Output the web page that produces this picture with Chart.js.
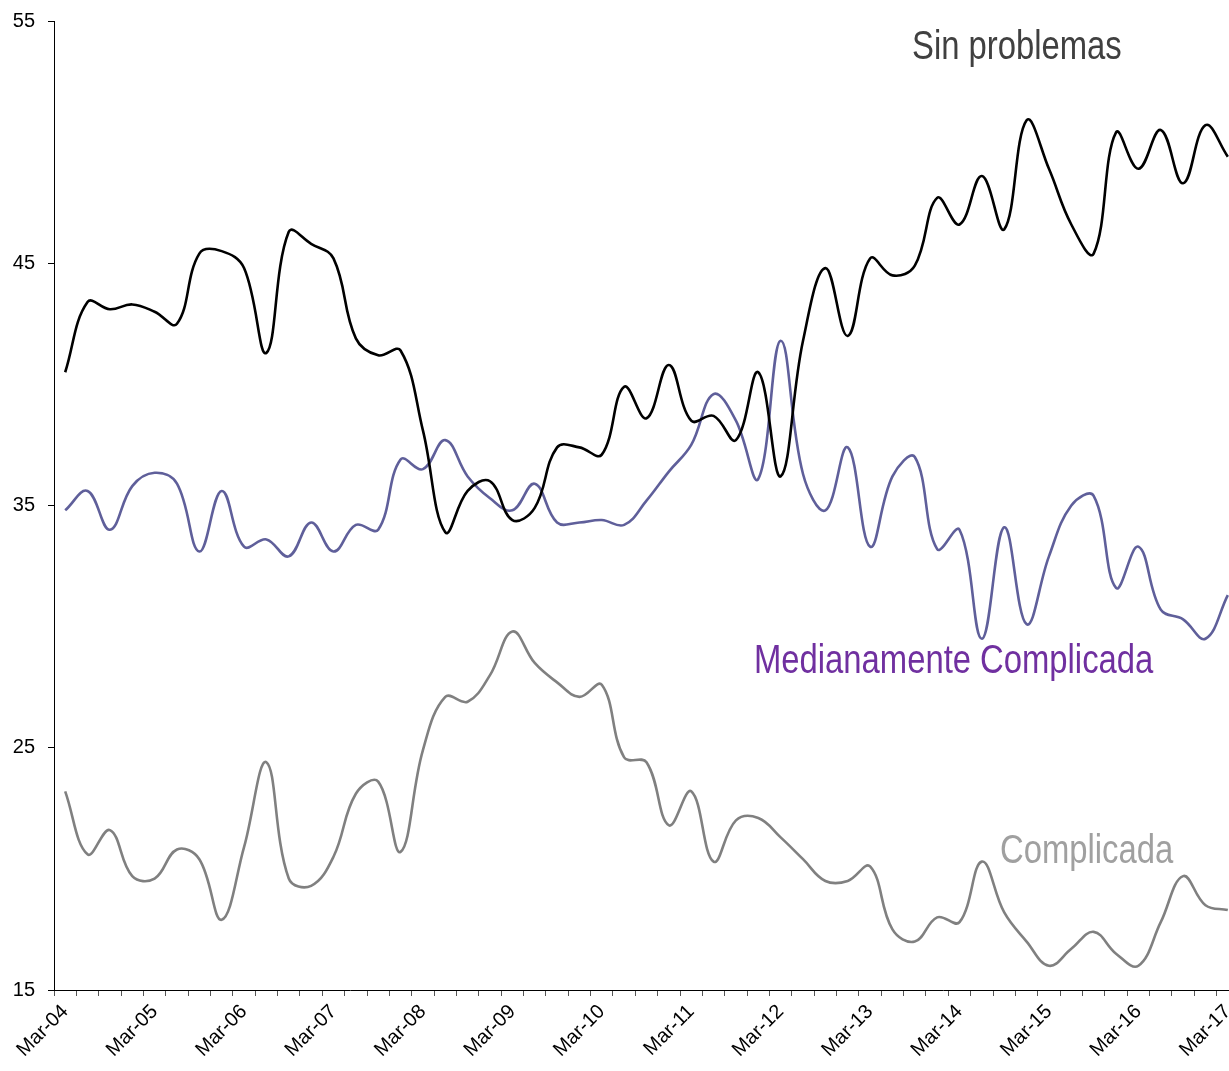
<!DOCTYPE html>
<html lang="es">
<head>
  <meta charset="UTF-8">
  <title>Sin problemas / Medianamente Complicada / Complicada</title>
  <script src="https://cdn.jsdelivr.net/npm/chart.js"></script>
  <style>
    html, body {
      margin: 0;
      padding: 0;
      overflow: hidden;
      background: #fff;
    }
    #canvas {
      display: block;
    }
  </style>
</head>
<body>
  <canvas id="canvas" width="1239" height="1071"></canvas>

  <script>
    // quarterly, Mar-04 .. Mar-17
    const months = ["Mar", "Jun", "Sep", "Dec"];
    const years = ["04", "05", "06", "07", "08", "09", "10", "11", "12", "13", "14", "15", "16", "17"];
    const categories = [];
    years.forEach(function (y, n) {
      months.forEach(function (m) {
        if (n < years.length - 1 || m === "Mar") categories.push(m + "-" + y);
      });
    });

    const sinProblemas = [
      40.5, 43.4, 43.1, 43.3, 43.0, 42.5, 45.4, 45.5, 44.8, 41.3,
      46.3, 45.8, 45.2, 41.9, 41.2, 41.4, 38.1, 33.9, 35.6, 36.0,
      34.4, 34.9, 37.4, 37.4, 37.1, 39.9, 38.6, 40.8, 38.5, 38.7,
      37.7, 40.5, 36.2, 41.8, 44.8, 42.0, 45.2, 44.5, 44.9, 47.7,
      46.6, 48.6, 46.4, 50.9, 48.9, 46.6, 45.4, 50.4, 48.9, 50.5,
      48.3, 50.7, 49.4
    ];
    const medianamente = [
      34.8, 35.6, 34.0, 35.8, 36.35, 35.9, 33.1, 35.6, 33.3, 33.6,
      32.9, 34.3, 33.1, 34.2, 34.0, 36.9, 36.5, 37.7, 36.2, 35.3,
      34.8, 35.9, 34.3, 34.3, 34.4, 34.2, 35.2, 36.4, 37.5, 39.6,
      38.5, 36.1, 41.8, 36.3, 34.8, 37.4, 33.3, 36.2, 37.0, 33.2,
      34.0, 29.5, 34.1, 30.1, 32.9, 35.0, 35.4, 31.6, 33.3, 30.7,
      30.3, 29.5, 31.3
    ];
    const complicada = [
      23.2, 20.6, 21.6, 19.7, 19.6, 20.8, 20.4, 17.9, 20.9, 24.4,
      19.6, 19.3, 20.5, 23.1, 23.6, 20.7, 24.9, 27.1, 26.9, 28.0,
      29.8, 28.5, 27.7, 27.1, 27.6, 24.6, 24.4, 21.8, 23.2, 20.3,
      22.0, 22.1, 21.3, 20.4, 19.5, 19.5, 20.1, 17.5, 17.0, 18.0,
      17.8, 20.3, 18.2, 17.0, 16.0, 16.7, 17.4, 16.5, 16.0, 17.8,
      19.7, 18.5, 18.3
    ];
    const yTicks = [15, 25, 35, 45, 55];

    const seriesLabels = [
      { text: "Sin problemas", color: "#404040", x: 912, y: 59 },
      { text: "Medianamente Complicada", color: "#7030A0", x: 754, y: 673 },
      { text: "Complicada", color: "#A0A0A0", x: 1000, y: 863 }
    ];

    const labelPlugin = {
      id: "seriesLabels",
      afterDraw: function (chart) {
        const ctx = chart.ctx;
        ctx.save();
        ctx.font = '40px "Liberation Sans", Arial, sans-serif';
        ctx.textBaseline = "alphabetic";
        ctx.textAlign = "left";
        seriesLabels.forEach(function (l) {
          ctx.save();
          ctx.translate(l.x, l.y);
          ctx.scale(0.82, 1);   // narrow face
          ctx.fillStyle = l.color;
          ctx.fillText(l.text, 0, 0);
          ctx.restore();
        });
        ctx.restore();
      }
    };

    const lineDefaults = {
      fill: false,
      borderWidth: 2.6,
      pointRadius: 0,
      pointHoverRadius: 0,
      tension: 0.4
    };

    window.onload = function () {
      const ctx = document.getElementById("canvas").getContext("2d");
      new Chart(ctx, {
        type: "line",
        data: {
          labels: categories,
          datasets: [
            Object.assign({ label: "Sin problemas", data: sinProblemas, borderColor: "#000000" }, lineDefaults),
            Object.assign({ label: "Medianamente Complicada", data: medianamente, borderColor: "#5F5F9A" }, lineDefaults),
            Object.assign({ label: "Complicada", data: complicada, borderColor: "#808080" }, lineDefaults)
          ]
        },
        options: {
          responsive: false,
          animation: false,
          events: [],
          layout: { padding: { top: 21, left: 0, right: 0, bottom: 0 } },
          plugins: {
            legend: { display: false },
            title: { display: false },
            tooltip: { enabled: false }
          },
          scales: {
            x: {
              type: "category",
              offset: true,
              afterFit: function (s) { s.height = 81; s.paddingLeft = 0; s.paddingRight = 0; },
              border: { color: "#000", width: 1 },
              grid: {
                display: true,
                drawOnChartArea: false,
                offset: true,
                tickLength: 6,
                color: "#555"
              },
              ticks: {
                autoSkip: false,
                maxRotation: 45,
                minRotation: 45,
                padding: 4,
                color: "#000",
                font: { family: '"Liberation Sans", Arial, sans-serif', size: 20 },
                callback: function (v, i) { return i % 4 === 0 ? categories[i] : ""; }
              }
            },
            y: {
              min: 15,
              max: 55,
              afterFit: function (s) { s.width = 54; s.paddingTop = 0; s.paddingBottom = 0; },
              afterBuildTicks: function (s) { s.ticks = yTicks.map(function (v) { return { value: v }; }); },
              border: { color: "#000", width: 1 },
              grid: {
                display: true,
                drawOnChartArea: false,
                tickLength: 6,
                color: "#000"
              },
              ticks: {
                padding: 13,
                color: "#000",
                font: { family: '"Liberation Sans", Arial, sans-serif', size: 20 }
              }
            }
          }
        },
        plugins: [labelPlugin]
      });
    };
  </script>
</body>
</html>
